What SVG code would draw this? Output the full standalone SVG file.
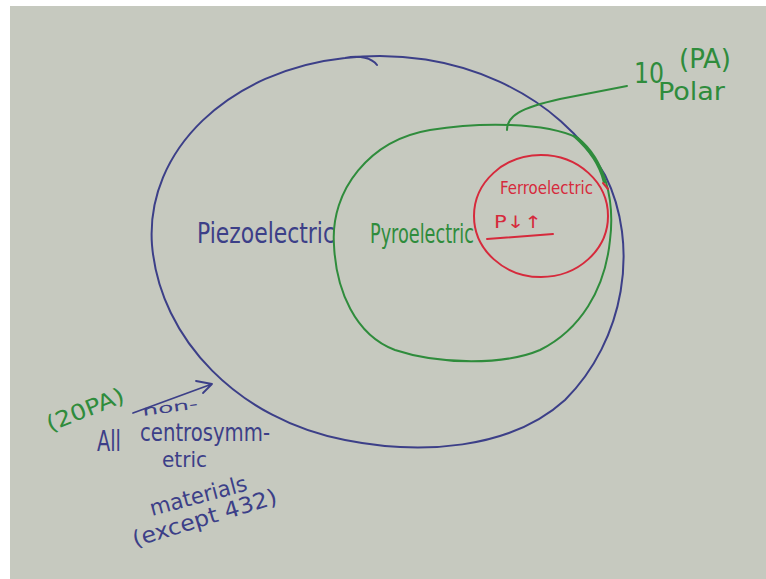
<svg xmlns="http://www.w3.org/2000/svg" width="766" height="579" viewBox="0 0 766 579">
<defs>
<style>
.ink{fill:none;stroke-linecap:round;stroke-linejoin:round}
.b{stroke:#3c3f88}
.g{stroke:#2f8c3c}
.r{stroke:#d62a3c}
text{font-family:"DejaVu Sans Condensed","Liberation Sans",sans-serif}
.tb{fill:#3c3f88}
.tg{fill:#2f8c3c}
.tr{fill:#d62a3c}
</style>
</defs>
<rect x="0" y="0" width="766" height="579" fill="#ffffff"/>
<rect x="10" y="6" width="756" height="573" fill="#c6c9bf"/>

<g id="piezoelectric">
<path class="ink b" stroke-width="2" d="M345,58 C455,45 560,95 605,175 C640,245 625,340 565,400 C510,450 420,455 345,440 C240,420 160,340 152,245 C145,150 230,70 345,58 C360,55 372,58 377,65"/>
<text class="tb" x="197" y="243" font-size="28" textLength="138" lengthAdjust="spacingAndGlyphs">Piezoelectric</text>
</g>

<g id="pyroelectric">
<path class="ink g" stroke-width="2" d="M334,245 C330,190 370,140 430,130 C480,122 545,122 578,138 C605,160 615,200 610,240 C605,290 580,330 540,350 C505,365 440,365 395,350 C355,335 336,290 334,245 Z"/>
<path class="ink g" stroke-width="2.5" d="M574,136 C590,150 600,165 604,182"/>
<text class="tg" x="370" y="243" font-size="26" textLength="104" lengthAdjust="spacingAndGlyphs">Pyroelectric</text>
</g>

<g id="ferroelectric">
<ellipse class="ink r" stroke-width="2" cx="541" cy="216" rx="67" ry="61"/>
<path class="ink r" stroke-width="2" d="M603,183 L608,189"/>
<text class="tr" x="500" y="194" font-size="18" textLength="93" lengthAdjust="spacingAndGlyphs">Ferroelectric</text>
<text class="tr" x="494" y="228" font-size="17" textLength="48" lengthAdjust="spacingAndGlyphs">P↓↑</text>
<path class="ink r" stroke-width="2" d="M487,239 L553,234"/>
</g>

<g id="polar-label">
<text class="tg" x="634" y="83" font-size="28" textLength="30" lengthAdjust="spacingAndGlyphs">10</text>
<text class="tg" x="679" y="68" font-size="26" textLength="52" lengthAdjust="spacingAndGlyphs">(PA)</text>
<text class="tg" x="658" y="100" font-size="24" textLength="67" lengthAdjust="spacingAndGlyphs">Polar</text>
</g>

<g id="connectors">
<path class="ink g" stroke-width="2" d="M507,130 C507,116 520,108 560,99 L627,86"/>
<path class="ink b" stroke-width="1.8" d="M133,413 L212,384 M196,381 L212,384 L203,393"/>
</g>

<g id="noncentro-label">
<text class="tg" x="50" y="432" font-size="22" textLength="82" lengthAdjust="spacingAndGlyphs" transform="rotate(-22 50 432)">(20PA)</text>
<text class="tb" x="143" y="416" font-size="14" textLength="56" lengthAdjust="spacingAndGlyphs" transform="rotate(-8 143 416)">non-</text>
<text class="tb" x="97" y="451" font-size="28" textLength="24" lengthAdjust="spacingAndGlyphs">All</text>
<text class="tb" x="140" y="441" font-size="25" textLength="130" lengthAdjust="spacingAndGlyphs">centrosymm-</text>
<text class="tb" x="162" y="467" font-size="22" textLength="45" lengthAdjust="spacingAndGlyphs">etric</text>
<text class="tb" x="152" y="516" font-size="22" textLength="100" lengthAdjust="spacingAndGlyphs" transform="rotate(-15 152 516)">materials</text>
<text class="tb" x="135" y="547" font-size="22" textLength="150" lengthAdjust="spacingAndGlyphs" transform="rotate(-17 135 547)">(except 432)</text>
</g>
</svg>
